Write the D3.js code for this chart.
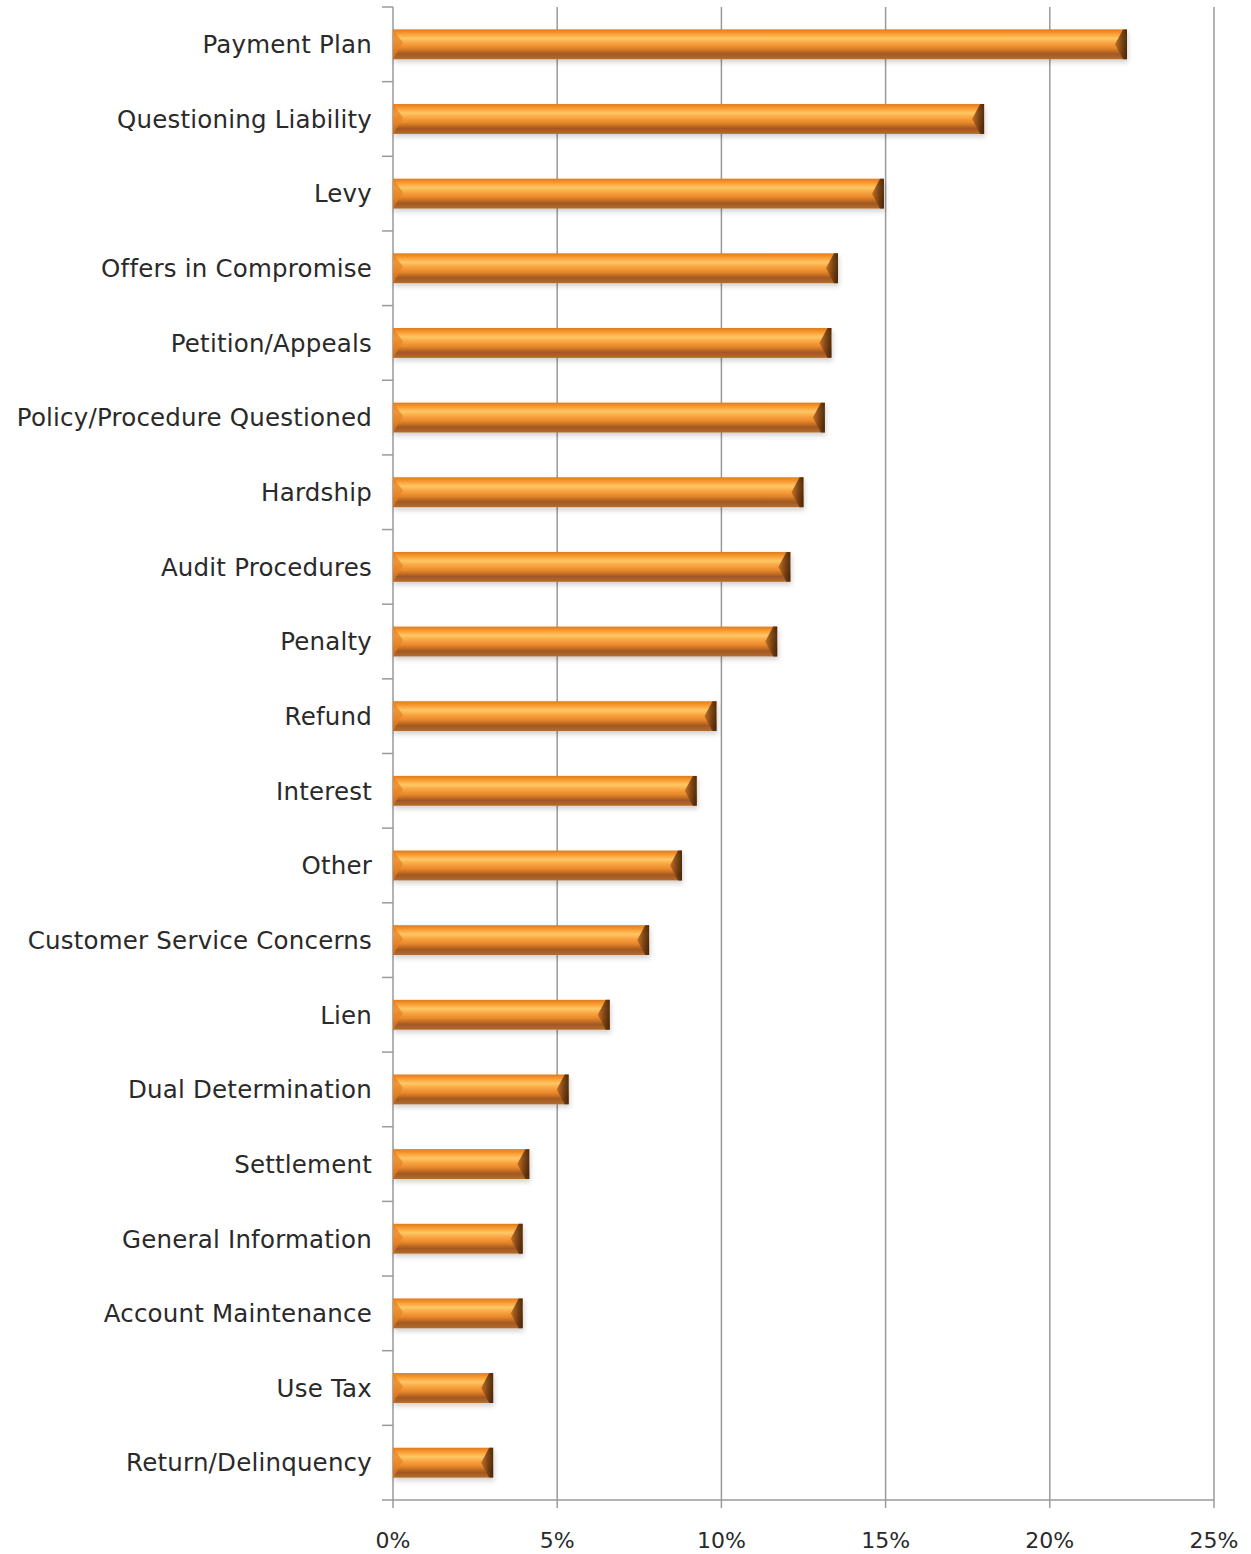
<!DOCTYPE html>
<html><head><meta charset="utf-8">
<script src="https://cdn.jsdelivr.net/npm/d3@7/dist/d3.min.js"></script>
<style>body{margin:0;background:#fff}svg{display:block}</style>
</head><body>
<svg id="c" width="1251" height="1554"></svg>
<script>
const categories = ["Payment Plan","Questioning Liability","Levy","Offers in Compromise","Petition/Appeals","Policy/Procedure Questioned","Hardship","Audit Procedures","Penalty","Refund","Interest","Other","Customer Service Concerns","Lien","Dual Determination","Settlement","General Information","Account Maintenance","Use Tax","Return/Delinquency"];
const values = [22.35,18.0,14.95,13.55,13.35,13.15,12.5,12.1,11.7,9.85,9.25,8.8,7.8,6.6,5.35,4.15,3.95,3.95,3.05,3.05];
const xTicks = [0,5,10,15,20,25];

(function(){
const svg = d3.select("#c");
const L = 393, R = 1214, T = 7, B = 1500;
const x = d3.scaleLinear().domain([0,25]).range([L,R]);
const y = d3.scaleBand().domain(categories).range([T,B]).paddingInner(0.6).paddingOuter(0.3);

const defs = svg.append("defs");
const g1 = defs.append("linearGradient").attr("id","barg").attr("x1",0).attr("y1",0).attr("x2",0).attr("y2",1);
[[0,"#e07a1e"],[0.12,"#f7962c"],[0.3,"#ffc765"],[0.45,"#f9a542"],[0.62,"#e8882a"],[0.82,"#a25820"],[1,"#b46c2e"]]
  .forEach(([o,c])=>g1.append("stop").attr("offset",o).attr("stop-color",c));
const g2 = defs.append("linearGradient").attr("id","capg").attr("x1",0).attr("y1",0).attr("x2",1).attr("y2",0);
[[0,"#c06a22"],[0.6,"#6a3810"],[1,"#3d2008"]].forEach(([o,c])=>g2.append("stop").attr("offset",o).attr("stop-color",c));
const f = defs.append("filter").attr("id","sh").attr("x","-5%").attr("y","-50%").attr("width","110%").attr("height","200%");
f.append("feDropShadow").attr("dx",1).attr("dy",3).attr("stdDeviation",2.5).attr("flood-color","#000").attr("flood-opacity",0.18);

svg.append("g").selectAll("line").data(xTicks.slice(1)).join("line")
  .attr("x1",d=>x(d)).attr("x2",d=>x(d)).attr("y1",T).attr("y2",B+8)
  .attr("stroke","#9a9a9a").attr("stroke-width",1.5);

svg.append("line").attr("x1",L).attr("x2",L).attr("y1",T).attr("y2",B+8).attr("stroke","#9a9a9a").attr("stroke-width",1.5);
svg.append("line").attr("x1",L).attr("x2",R).attr("y1",B).attr("y2",B).attr("stroke","#9a9a9a").attr("stroke-width",1.5);
const step = y.step();
svg.append("g").selectAll("line").data(d3.range(categories.length+1)).join("line")
  .attr("x1",L-11).attr("x2",L).attr("y1",i=>T+i*step).attr("y2",i=>T+i*step)
  .attr("stroke","#9a9a9a").attr("stroke-width",1.5);

const bars = svg.append("g").selectAll("g").data(categories).join("g").attr("filter","url(#sh)");
bars.append("rect").attr("x",L).attr("y",d=>y(d)).attr("width",(d,i)=>x(values[i])-L).attr("height",y.bandwidth()).attr("fill","url(#barg)");
bars.append("path").attr("d",(d,i)=>{
  const x1 = x(values[i]), y0 = y(d), h = y.bandwidth();
  return `M${x1-12},${y0+h*0.5} L${x1-4},${y0} L${x1},${y0} L${x1},${y0+h} L${x1-4},${y0+h} Z`;
}).attr("fill","url(#capg)").attr("opacity",0.9);
bars.append("path").attr("d",(d)=>{
  const y0 = y(d), h = y.bandwidth();
  return `M${L},${y0} L${L+10},${y0+h*0.45} L${L},${y0+h} Z`;
}).attr("fill","#e48228").attr("opacity",0.7);

svg.append("g").selectAll("text").data(categories).join("text")
  .attr("x",372).attr("y",d=>y(d)+y.bandwidth()/2).attr("dy","0.36em")
  .attr("text-anchor","end").attr("font-family","DejaVu Sans").attr("font-size",24.5).attr("fill","#2a2a2a")
  .attr("letter-spacing",0.2)
  .text(d=>d);

svg.append("g").selectAll("text").data(xTicks).join("text")
  .attr("x",d=>x(d)).attr("y",1548).attr("text-anchor","middle")
  .attr("font-family","DejaVu Sans").attr("font-size",22).attr("fill","#2a2a2a")
  .text(d=>d+"%");
})();
</script>
</body></html>
